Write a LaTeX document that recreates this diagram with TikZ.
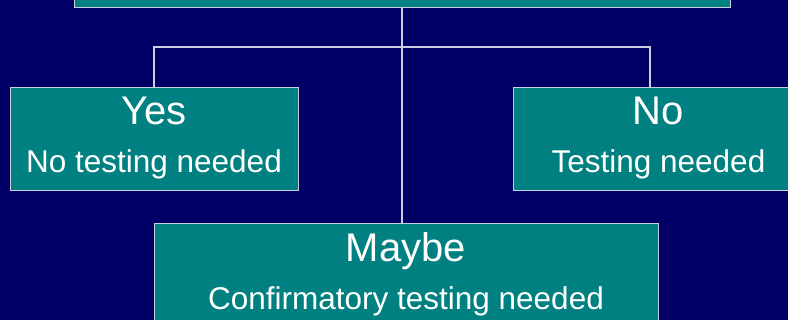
\documentclass[tikz,border=0pt]{standalone}
\usepackage{fontspec}
\setmainfont{Liberation Sans}
\usepackage{tikz}
\usetikzlibrary{positioning}
\definecolor{navy}{RGB}{0,0,102}
\definecolor{tealbox}{RGB}{0,128,128}
\definecolor{linegray}{RGB}{205,205,225}

\begin{document}
\begin{tikzpicture}[x=1pt,y=1pt]
\tikzstyle{answer}=[rectangle, draw=linegray, line width=0.9pt, fill=tealbox, text=white, align=center, inner sep=0pt, minimum height=103pt, font=\fontsize{40}{47}\selectfont]
\tikzstyle{link}=[draw=linegray, line width=1.2pt]
\useasboundingbox (0,0) rectangle (788,320);
\clip (0,0) rectangle (788,320);
\fill[navy] (0,0) rectangle (788,320);
\node[answer, minimum width=656pt] (question) at (402,364.5) {};
\node[answer, minimum width=288pt] (yes) at (154,181.5) {Yes\\[1pt]{\fontsize{31.5}{37}\selectfont No testing needed}};
\node[answer, minimum width=291pt] (no) at (658.5,181.5) {No\\[1pt]{\fontsize{31.5}{37}\selectfont Testing needed}};
\node[answer, minimum width=504pt] (maybe) at (406,45.5) {Maybe\\[1pt]{\fontsize{31.5}{37}\selectfont Confirmatory testing needed}};
\coordinate (fork) at (402,273);
\coordinate (noin) at ([xshift=-8.5pt]no.north);
\draw[link] (question.south) -- (question.south |- maybe.north);
\draw[link] (yes.north) |- (fork) -| (noin);
\end{tikzpicture}
\end{document}
